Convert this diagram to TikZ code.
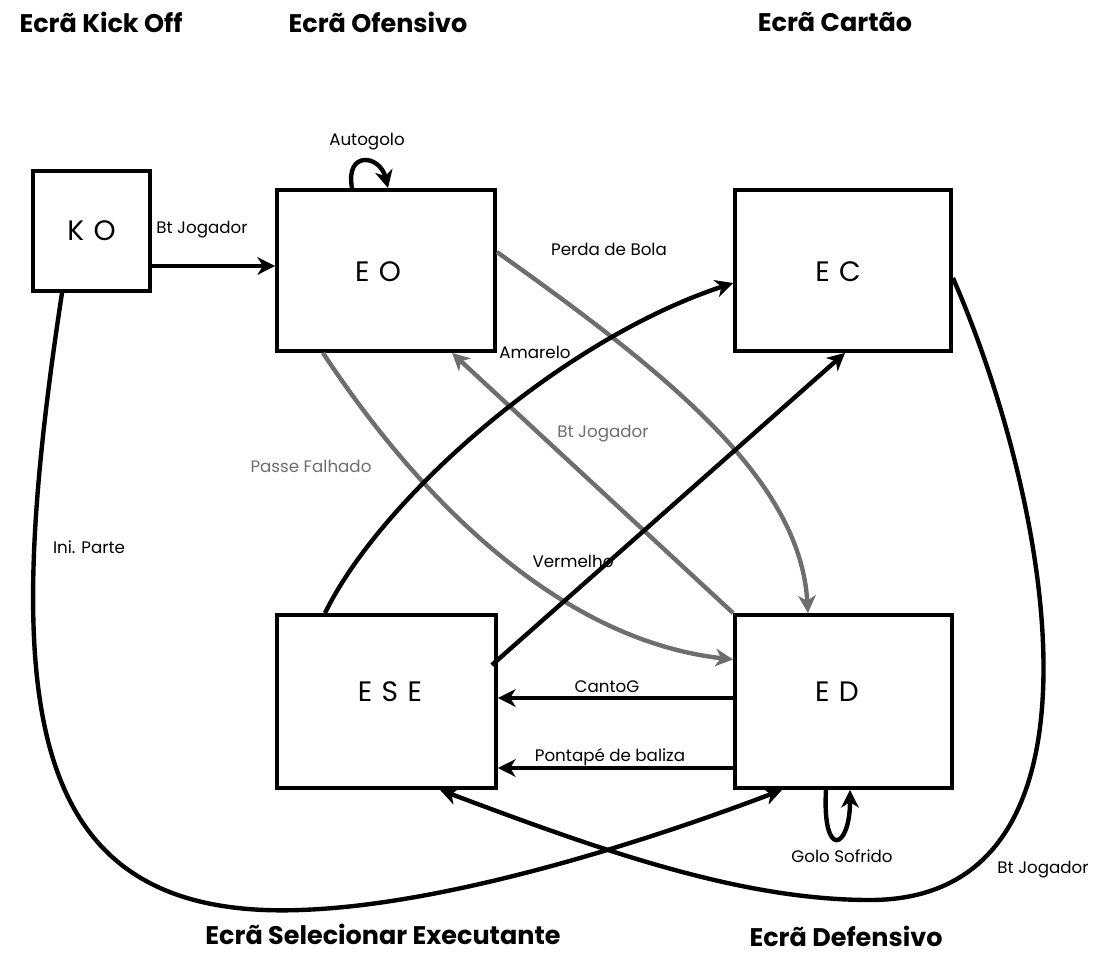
\documentclass[tikz,border=0pt]{standalone}
\usepackage{fontspec}
\setmainfont{Poppins}
\usetikzlibrary{arrows.meta,calc}
\definecolor{gln}{HTML}{6E6E6E}
\begin{document}
\begin{tikzpicture}[x=0.02cm,y=-0.02cm,
  box/.style={draw=black,line width=2.2pt,fill=white,inner sep=0pt},
  btxt/.style={font=\fontsize{16}{18}\selectfont,inner sep=0pt},
  ttl/.style={font=\bfseries\fontsize{14.5}{17}\selectfont,inner sep=0pt},
  lab/.style={font=\fontsize{9.5}{11}\selectfont,inner sep=1pt},
  glab/.style={lab,text=gln},
  con/.style={line width=2.5pt,-{Stealth[length=10pt,width=10pt,inset=3pt]}},
  gcon/.style={con,draw=gln},
]
\useasboundingbox (0,0) rectangle (1094,956);

% titles
\node[ttl] (t1) at (101,22) {Ecrã Kick Off};
\node[ttl] (t2) at (378,22) {Ecrã Ofensivo};
\node[ttl] (t3) at (835,22) {Ecrã Cartão};
\node[ttl] (t4) at (383,934) {Ecrã Selecionar Executante};
\node[ttl] (t5) at (846,936) {Ecrã Defensivo};

% labels
\node[lab] (l1) at (202,230) {Bt Jogador};
\node[lab] (l2) at (367,142) {Autogolo};
\node[lab] (l3) at (609,249) {Perda de Bola};
\node[lab] (l4) at (535,352) {Amarelo};
\node[glab] (l5) at (603,434) {Bt Jogador};
\node[glab] (l6) at (311,466) {Passe Falhado};
\node[lab] (l7) at (89,547) {Ini. Parte};
\node[lab] (l8) at (573,561) {Vermelho};
\node[lab] (l9) at (607,687) {CantoG};
\node[lab] (l10) at (610,757) {Pontapé de baliza};
\node[lab] (l11) at (842,856) {Golo Sofrido};
\node[lab] (l12) at (1043,870) {Bt Jogador};

% boxes
\node[box,minimum width=2.34cm,minimum height=2.4cm] (KO) at (91.5,231) {};
\node[box,minimum width=4.36cm,minimum height=3.22cm] (EO) at (386,270.5) {};
\node[box,minimum width=4.32cm,minimum height=3.22cm] (EC) at (843,270.5) {};
\node[box,minimum width=4.38cm,minimum height=3.46cm] (ESE) at (386.5,701.5) {};
\node[box,minimum width=4.34cm,minimum height=3.46cm] (ED) at (843.5,701.5) {};
\node[btxt] (kot) at (91.5,231) {K\,\,O};
\node[btxt] (eot) at (378,272) {E\,\,O};
\node[btxt] (ect) at (838,272) {E\,\,C};
\node[btxt] (eset) at (390,692) {E\,\,S\,\,E};
\node[btxt] (edt) at (837,692) {E\,\,D};

% connectors
\draw[con] ($(KO.east)+(0,35)$) -- ($(EO.west)+(0,-4.5)$);
\draw[con] ($(EO.north)+(-34,0)$) .. controls (345,150) and (380,155) .. ($(EO.north)+(2,0)$);
\draw[gcon] ($(EO.east)+(0,-18.5)$) .. controls (670,375) and (800,480) .. ($(ED.north)+(-35.5,0)$);
\draw[gcon] (ED.north west) -- ($(EO.south)+(66,0)$);
\draw[gcon] ($(EO.south)+(-63,0)$) .. controls (420,500) and (560,640) .. ($(ED.west)+(0,-42)$);
\draw[con] ($(ESE.north)+(-61.5,0)$) .. controls (380,500) and (560,340) .. ($(EC.west)+(0,12.5)$);
\draw[con] ($(ESE.east)+(-6,-36.5)$) -- ($(EC.south)+(2,0)$);
\draw[con] ($(ED.west)+(0,-3.5)$) -- ($(ESE.east)+(0,-3.5)$);
\draw[con] ($(ED.west)+(0,66.5)$) -- ($(ESE.east)+(0,66.5)$);
\draw[con] ($(ED.south)+(-17.5,0)$) .. controls (822,860) and (850,850) .. ($(ED.south)+(6.5,0)$);
\draw[con] ($(KO.south)+(-29.5,0)$) .. controls (0,700) and (20,920) .. (300,910)
   .. controls (450,905) and (650,840) .. ($(ED.south)+(-61.5,0)$);
\draw[con] ($(EC.east)+(0,7.5)$) .. controls (1050,500) and (1125,900) .. (870,900)
   .. controls (740,900) and (600,850) .. ($(ESE.south)+(53.5,0)$);
\end{tikzpicture}
\end{document}
